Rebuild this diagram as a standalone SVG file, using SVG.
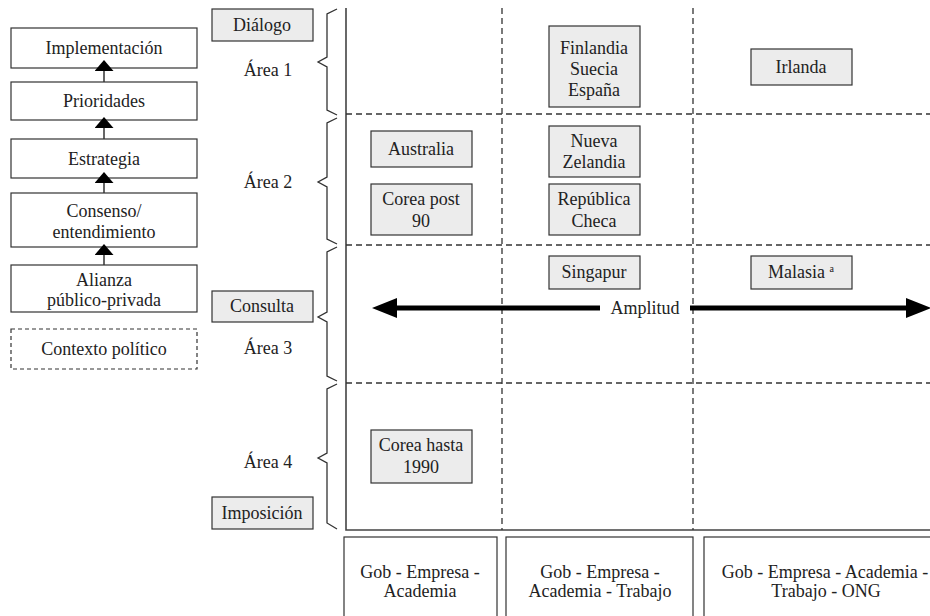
<svg xmlns="http://www.w3.org/2000/svg" width="930" height="616" viewBox="0 0 930 616" font-family="Liberation Serif, DejaVu Serif, serif">
  <style>
    text { font-family: "Liberation Serif", "DejaVu Serif", serif; font-size: 18px; fill: #222; text-anchor: middle; }
    .box { fill: #ffffff; stroke: #333; stroke-width: 1.2; }
    .dbox { fill: #ffffff; stroke: #333; stroke-width: 1.2; stroke-dasharray: 4 3; }
    .gbox { fill: #ececec; stroke: #333; stroke-width: 1.2; }
    .axis { fill: none; stroke: #444; stroke-width: 1.6; }
    .grid { fill: none; stroke: #333; stroke-width: 1.3; stroke-dasharray: 6 4; }
    .brace { fill: none; stroke: #333; stroke-width: 1.3; stroke-linejoin: miter; }
    .step { stroke: #333; stroke-width: 1.5; marker-end: url(#head-small); }
    .wide { stroke: #000; stroke-width: 5; marker-end: url(#head-big); }
    .sup { font-size: 10px; }
  </style>
  <defs>
    <marker id="head-small" viewBox="0 0 11 19" markerWidth="11" markerHeight="19" refX="0" refY="9.5" orient="auto" markerUnits="userSpaceOnUse">
      <path d="M0,0 L11,9.5 L0,19 Z" fill="#000"/>
    </marker>
    <marker id="head-big" viewBox="0 0 25 20" markerWidth="25" markerHeight="20" refX="0" refY="10" orient="auto" markerUnits="userSpaceOnUse">
      <path d="M0,0 L25,10 L0,20 Z" fill="#000"/>
    </marker>
  </defs>

  <!-- left column: process steps -->
  <g id="implementacion"><rect class="box" x="11" y="28" width="186" height="40"/><text x="104" y="54">Implementación</text></g>
  <g id="prioridades"><rect class="box" x="11" y="82" width="186" height="38"/><text x="104" y="107">Prioridades</text></g>
  <g id="estrategia"><rect class="box" x="11" y="139" width="186" height="39"/><text x="104" y="165">Estrategia</text></g>
  <g id="consenso"><rect class="box" x="11" y="193" width="186" height="54"/><text x="104" y="217">Consenso/</text><text x="104" y="238">entendimiento</text></g>
  <g id="alianza"><rect class="box" x="11" y="265" width="186" height="47"/><text x="104" y="286">Alianza</text><text x="104" y="306">público-privada</text></g>
  <g id="contexto"><rect class="dbox" x="11" y="329" width="186" height="40"/><text x="104" y="355">Contexto político</text></g>

  <!-- scale labels -->
  <g id="dialogo"><rect class="gbox" x="212" y="9" width="101" height="32"/><text x="262" y="31">Diálogo</text></g>
  <g id="consulta"><rect class="gbox" x="212" y="291" width="101" height="31"/><text x="262" y="312">Consulta</text></g>
  <g id="imposicion"><rect class="gbox" x="212" y="497" width="101" height="32"/><text x="262" y="519">Imposición</text></g>

  <g id="area1"><text x="268" y="76">Área 1</text><path class="brace" d="M337,9 L327,14 L327,57 L318,62 L327,67 L327,110 L337,115"/></g>
  <g id="area2"><text x="268" y="188">Área 2</text><path class="brace" d="M337,118 L327,123 L327,177 L318,182 L327,187 L327,239 L337,244"/></g>
  <g id="area3"><text x="268" y="354">Área 3</text><path class="brace" d="M337,247 L327,252 L327,312 L318,317 L327,322 L327,376 L337,381"/></g>
  <g id="area4"><text x="268" y="468">Área 4</text><path class="brace" d="M337,384 L327,389 L327,453 L318,458 L327,463 L327,523 L337,529"/></g>

  <!-- matrix frame and grid -->
  <g id="grid">
    <path class="axis" d="M346,8 L346,530 L930,530"/>
    <path class="grid" d="M346,114 H930 M346,245 H930 M346,383 H930"/>
    <path class="grid" d="M502,8 V530 M693,8 V530"/>
  </g>

  <!-- countries -->
  <g id="finlandia"><rect class="gbox" x="549" y="26" width="91" height="81"/><text x="594" y="54">Finlandia</text><text x="594" y="75">Suecia</text><text x="594" y="96">España</text></g>
  <g id="irlanda"><rect class="gbox" x="751" y="49" width="101" height="36"/><text x="801" y="73">Irlanda</text></g>
  <g id="australia"><rect class="gbox" x="371" y="131" width="101" height="36"/><text x="421" y="155">Australia</text></g>
  <g id="corea-post"><rect class="gbox" x="371" y="184" width="101" height="51"/><text x="421" y="205">Corea post</text><text x="421" y="227">90</text></g>
  <g id="nueva-zelandia"><rect class="gbox" x="549" y="126" width="91" height="51"/><text x="594" y="147">Nueva</text><text x="594" y="168">Zelandia</text></g>
  <g id="republica-checa"><rect class="gbox" x="549" y="184" width="91" height="51"/><text x="594" y="205">República</text><text x="594" y="227">Checa</text></g>
  <g id="singapur"><rect class="gbox" x="549" y="256" width="91" height="33"/><text x="594" y="278">Singapur</text></g>
  <g id="malasia"><rect class="gbox" x="751" y="256" width="101" height="33"/><text x="801" y="278">Malasia <tspan class="sup" dy="-6">a</tspan></text></g>
  <g id="corea-hasta"><rect class="gbox" x="371" y="430" width="101" height="53"/><text x="421" y="451">Corea hasta</text><text x="421" y="473">1990</text></g>

  <!-- participant groups -->
  <g id="actores-1"><rect class="box" x="344" y="537" width="153" height="84"/><text x="420" y="578">Gob - Empresa -</text><text x="420" y="597">Academia</text></g>
  <g id="actores-2"><rect class="box" x="506" y="537" width="187" height="84"/><text x="600" y="578">Gob - Empresa -</text><text x="600" y="597">Academia - Trabajo</text></g>
  <g id="actores-3"><rect class="box" x="704" y="537" width="250" height="84"/><text x="825" y="578">Gob - Empresa - Academia -</text><text x="826" y="597">Trabajo - ONG</text></g>

  <!-- connectors -->
  <g id="connectors">
    <line class="step" x1="104" y1="82" x2="104" y2="71"/>
    <line class="step" x1="104" y1="139" x2="104" y2="128"/>
    <line class="step" x1="104" y1="193" x2="104" y2="183"/>
    <line class="step" x1="104" y1="265" x2="104" y2="255"/>
    <line class="wide" x1="600" y1="308" x2="397" y2="308"/>
    <line class="wide" x1="690" y1="308" x2="906" y2="308"/>
    <text x="645" y="314">Amplitud</text>
  </g>
</svg>
